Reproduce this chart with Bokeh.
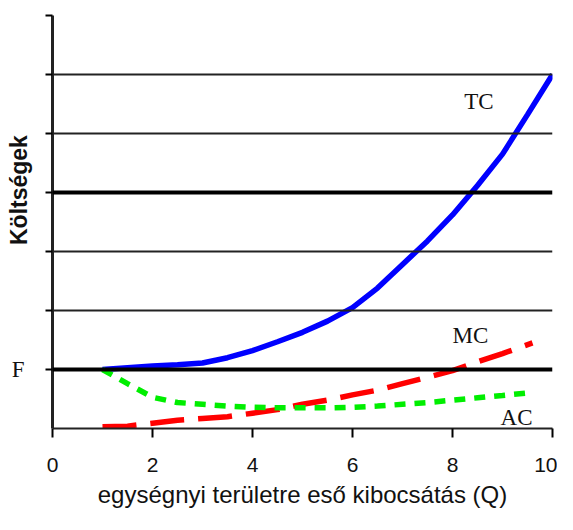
from bokeh.plotting import figure
from bokeh.models import Range1d, FixedTicker, Span, Label
from bokeh.embed import file_html
from bokeh.resources import INLINE

# ---- data ----
tc_q = [1, 1.5, 2, 2.5, 3, 3.5, 4, 4.5, 5, 5.5, 6, 6.5, 7, 7.5, 8, 8.5, 9, 9.5, 10]
tc = [1.0, 1.03, 1.06, 1.08, 1.11, 1.2, 1.32, 1.47, 1.63, 1.82, 2.05, 2.38, 2.78, 3.18, 3.62, 4.12, 4.65, 5.32, 6.0]

mc_q = [1, 1.5, 2, 2.5, 3, 3.5, 4, 4.5, 5, 5.5, 6, 6.5, 7, 7.5, 8, 8.5, 9, 9.6]
mc = [0.03, 0.04, 0.09, 0.14, 0.17, 0.2, 0.26, 0.32, 0.41, 0.48, 0.57, 0.65, 0.76, 0.87, 0.98, 1.13, 1.27, 1.45]

ac_q = [1, 1.5, 2, 2.5, 3, 3.5, 4, 4.5, 5, 5.5, 6, 6.5, 7, 7.5, 8, 8.5, 9, 9.6]
ac = [1.0, 0.76, 0.53, 0.44, 0.41, 0.38, 0.36, 0.35, 0.35, 0.35, 0.36, 0.38, 0.41, 0.44, 0.48, 0.52, 0.56, 0.61]

x_ticks = [0, 2, 4, 6, 8, 10]
y_ticks = [1, 2, 3, 4, 5, 6, 7]
grid_thin = [2, 3, 5, 6]
grid_thick = [1, 4]
y_tick_labels = {1: "F", 2: "", 3: "", 4: "", 5: "", 6: "", 7: ""}

curve_labels = ["TC", "MC", "AC"]
label_x = [8.53, 8.36, 9.28]
label_y = [5.54, 1.58, 0.19]

x_title = "egységnyi területre eső kibocsátás (Q)"
y_title = "Költségek"

p = figure(width=557, height=514, output_backend="svg", toolbar_location=None,
           x_range=Range1d(0, 10), y_range=Range1d(0, 7),
           min_border_left=52, min_border_right=5, min_border_top=15, min_border_bottom=86)
p.outline_line_color = None
p.xgrid.grid_line_color = None
p.ygrid.grid_line_color = None
p.background_fill_color = "white"

for g in grid_thin:
    p.add_layout(Span(location=g, dimension="width", line_color="#222222", line_width=2))
for g in grid_thick:
    p.add_layout(Span(location=g, dimension="width", line_color="black", line_width=4))

p.xaxis.ticker = FixedTicker(ticks=x_ticks)
p.xaxis.axis_line_width = 2
p.xaxis.axis_line_color = "#222222"
p.xaxis.major_tick_out = 9
p.xaxis.major_tick_in = 0
p.xaxis.major_tick_line_width = 2
p.xaxis.minor_tick_line_color = None
p.xaxis.major_label_standoff = 20
p.xaxis.major_label_text_font = "Liberation Sans"
p.xaxis.major_label_text_font_size = "21px"
p.xaxis.major_label_text_color = "#111111"
p.xaxis.axis_label = x_title
p.xaxis.axis_label_text_font = "Liberation Sans"
p.xaxis.axis_label_text_font_style = "normal"
p.xaxis.axis_label_text_font_size = "24px"
p.xaxis.axis_label_text_color = "#111111"
p.xaxis.axis_label_standoff = 6

p.yaxis.ticker = FixedTicker(ticks=y_ticks)
p.yaxis.axis_line_width = 3
p.yaxis.axis_line_color = "#222222"
p.yaxis.major_tick_out = 7
p.yaxis.major_tick_in = 0
p.yaxis.major_tick_line_width = 2
p.yaxis.minor_tick_line_color = None
p.yaxis.major_label_overrides = y_tick_labels
p.yaxis.major_label_standoff = 21
p.yaxis.major_label_text_font = "Liberation Serif"
p.yaxis.major_label_text_font_size = "23px"
p.yaxis.major_label_text_color = "#111111"
p.yaxis.axis_label = "\u00a0" * 10 + y_title
p.yaxis.axis_label_text_font = "Liberation Sans"
p.yaxis.axis_label_text_font_style = "bold"
p.yaxis.axis_label_text_font_size = "23px"
p.yaxis.axis_label_text_color = "#111111"
p.yaxis.axis_label_standoff = -23

p.line(tc_q, tc, line_color="#0000FF", line_width=5.5)
p.line(mc_q, mc, line_color="#FF0000", line_width=5.5, line_dash="34 14")
p.line(ac_q, ac, line_color="#00EE00", line_width=5.5, line_dash="11 9")

for t, lx, ly in zip(curve_labels, label_x, label_y):
    p.add_layout(Label(x=lx, y=ly, text=t, text_align="center", text_baseline="middle",
                       text_font="Liberation Serif", text_font_size="23px", text_color="#111111"))

open("out.html", "w").write(file_html(p, INLINE))
